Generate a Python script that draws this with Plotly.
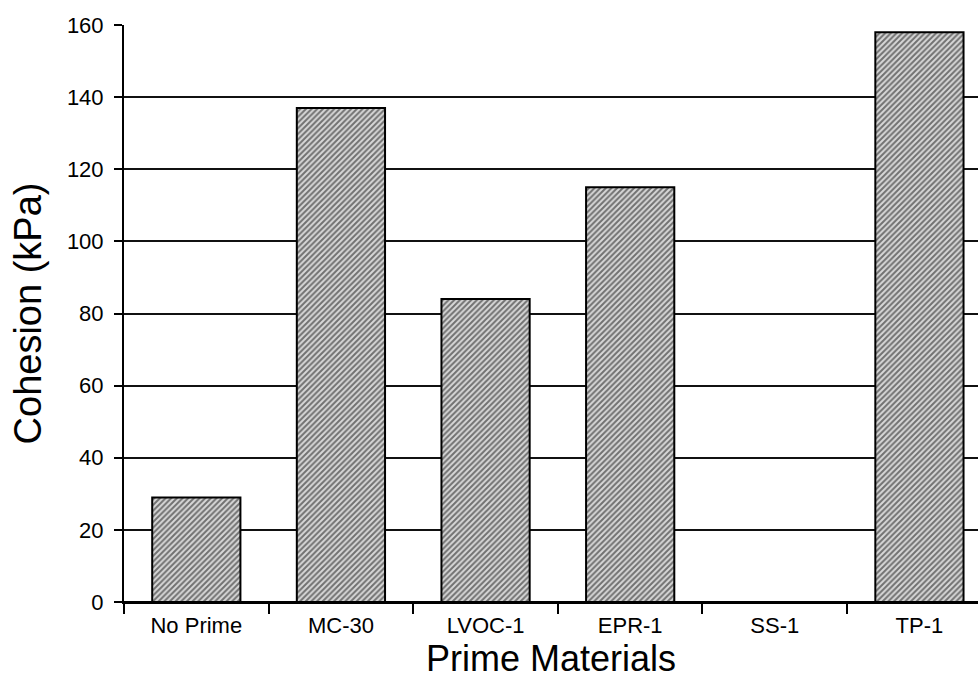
import plotly.graph_objects as go

# Cohesion of each prime material (kPa)
materials = ["No Prime", "MC-30", "LVOC-1", "EPR-1", "SS-1", "TP-1"]
cohesion = [29, 137, 84, 115, 0, 158]
y_ticks = [0, 20, 40, 60, 80, 100, 120, 140, 160]

font_family = "Liberation Sans, Arial, sans-serif"

fig = go.Figure(
    go.Bar(
        x=materials,
        y=cohesion,
        marker=dict(
            color="white",
            line=dict(color="black", width=2),
            pattern=dict(shape="/", fgcolor="#0a0a0a", bgcolor="#d8d8d8",
                         size=4, solidity=0.5),
        ),
        hoverinfo="x+y",
    )
)

fig.update_layout(
    width=978,
    height=685,
    margin=dict(l=124, r=0, t=25, b=83),
    paper_bgcolor="white",
    plot_bgcolor="white",
    bargap=0.39,
    showlegend=False,
    font=dict(family=font_family, color="black"),
)

fig.update_xaxes(
    type="category",
    range=[-0.5, 5.405],
    tickson="boundaries",
    ticks="outside",
    ticklen=10,
    tickwidth=2,
    tickcolor="black",
    ticklabelstandoff=3,
    showline=True,
    linecolor="black",
    linewidth=2,
    showgrid=False,
    tickfont=dict(size=22, family=font_family),
    title=dict(text="Prime Materials", font=dict(size=36, family=font_family),
               standoff=2),
    automargin=False,
)

fig.update_yaxes(
    range=[0, 160],
    tickvals=y_ticks,
    ticks="outside",
    ticklen=8,
    tickwidth=2,
    tickcolor="black",
    ticklabelstandoff=6,
    showline=True,
    linecolor="black",
    linewidth=2,
    showgrid=True,
    gridcolor="#111111",
    gridwidth=2,
    zeroline=True,
    zerolinecolor="black",
    zerolinewidth=2,
    tickfont=dict(size=22, family=font_family),
    title=dict(text="Cohesion (kPa)", font=dict(size=38, family=font_family),
               standoff=14),
    automargin=False,
)

fig.write_html("out.html")
